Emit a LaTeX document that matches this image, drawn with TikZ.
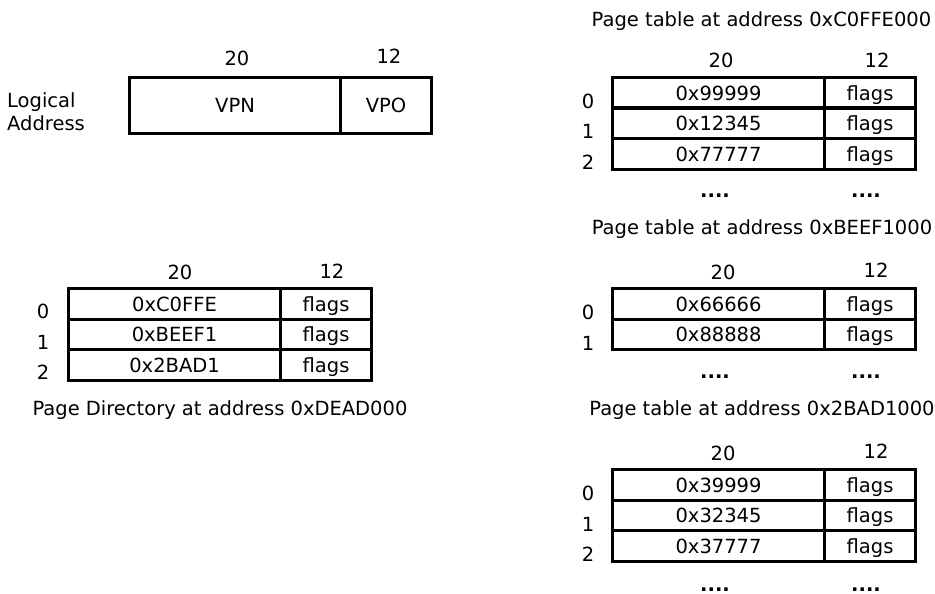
\documentclass[tikz,border=0pt]{standalone}
\usepackage{fontspec}
\setmainfont{DejaVu Sans}
\begin{document}
\begin{tikzpicture}[x=1pt,y=-1pt,
  every node/.style={font=\fontsize{19.5}{24}\selectfont, inner sep=0pt},
  cell/.style={draw, line width=3.1pt, minimum height=30.5pt,
               text height=14.6pt, text depth=0pt, anchor=north west},
  field/.style={draw, line width=3.1pt, minimum height=56pt,
                text height=14.6pt, text depth=0pt, anchor=north west},
  lbl/.style={anchor=base},
  dots/.style={anchor=base, font=\fontsize{19.5}{24}\selectfont\bfseries}]
\useasboundingbox (0,0) rectangle (935,594);

% logical address layout
\node[anchor=base west] (la1) at (7,107) {Logical};
\node[anchor=base west] (la2) at (7,131) {Address};
\node[field, minimum width=211pt] (vpn) at (128,76) {VPN};
\node[field, minimum width=91pt] (vpo) at (339,76) {VPO};
\node[lbl] (vpnbits) at (237,66) {20};
\node[lbl] (vpobits) at (389,64) {12};

% page directory
\node[lbl] (pdb20) at (180,279) {20};
\node[lbl] (pdb12) at (332,278) {12};
\foreach \v [count=\i from 0] in {0xC0FFE,0xBEEF1,0x2BAD1} {
  \node[cell, minimum width=212pt] (pdv\i) at (67,{287+\i*30.5}) {\v};
  \node[cell, minimum width=91pt] (pdf\i) at (279,{287+\i*30.5}) {flags};
  \node[lbl] (pdi\i) at (43,{287+\i*30.5+31.5}) {\i};
}
\node[lbl] (pdcap) at (220,415) {Page Directory at address 0xDEAD000};

% page table 0xC0FFE000
\node[lbl] (t1cap) at (761.5,27) {Page table at address 0xC0FFE000};
\node[lbl] (t1b20) at (721,68) {20};
\node[lbl] (t1b12) at (877,67) {12};
\foreach \v [count=\i from 0] in {0x99999,0x12345,0x77777} {
  \node[cell, minimum width=212pt] (t1v\i) at (611,{76+\i*30.5}) {\v};
  \node[cell, minimum width=91pt] (t1f\i) at (823,{76+\i*30.5}) {flags};
  \node[lbl] (t1i\i) at (588,{76+\i*30.5+32.5}) {\i};
}
\node[dots] (t1d1) at (715,197) {....};
\node[dots] (t1d2) at (866,197) {....};

% page table 0xBEEF1000
\node[lbl] (t2cap) at (762,234) {Page table at address 0xBEEF1000};
\node[lbl] (t2b20) at (723,279) {20};
\node[lbl] (t2b12) at (876,277) {12};
\foreach \v [count=\i from 0] in {0x66666,0x88888} {
  \node[cell, minimum width=212pt] (t2v\i) at (611,{287+\i*30.5}) {\v};
  \node[cell, minimum width=91pt] (t2f\i) at (823,{287+\i*30.5}) {flags};
  \node[lbl] (t2i\i) at (588,{287+\i*30.5+32.5}) {\i};
}
\node[dots] (t2d1) at (715,378) {....};
\node[dots] (t2d2) at (866,378) {....};

% page table 0x2BAD1000
\node[lbl] (t3cap) at (762,415) {Page table at address 0x2BAD1000};
\node[lbl] (t3b20) at (723,460) {20};
\node[lbl] (t3b12) at (876,458) {12};
\foreach \v [count=\i from 0] in {0x39999,0x32345,0x37777} {
  \node[cell, minimum width=212pt] (t3v\i) at (611,{468+\i*30.5}) {\v};
  \node[cell, minimum width=91pt] (t3f\i) at (823,{468+\i*30.5}) {flags};
  \node[lbl] (t3i\i) at (588,{468+\i*30.5+32.5}) {\i};
}
\node[dots] (t3d1) at (715,591) {....};
\node[dots] (t3d2) at (866,591) {....};
\end{tikzpicture}
\end{document}
